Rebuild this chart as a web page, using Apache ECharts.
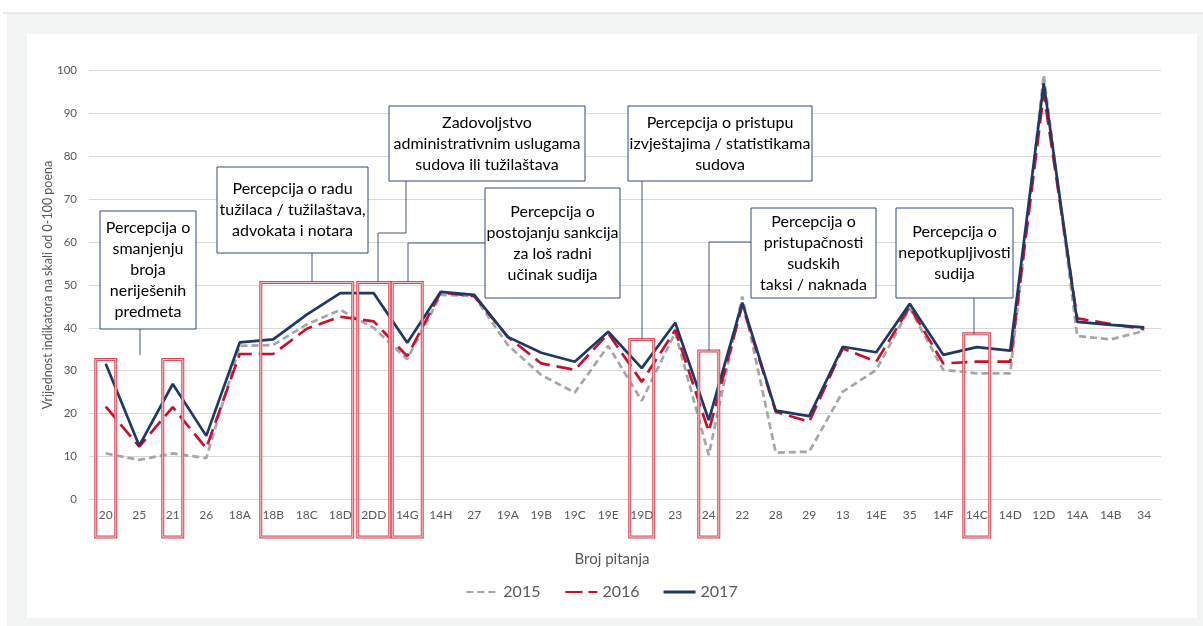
<!DOCTYPE html>
<html>
<head>
<meta charset="utf-8">
<script src="https://cdn.jsdelivr.net/npm/echarts@6/dist/echarts.min.js"></script>
<style>
  html, body { margin: 0; padding: 0; background: #fff; }
  #chart { width: 1203px; height: 626px; }
</style>
</head>
<body>
<div id="chart"></div>
<script>
const categories = ['20', '25', '21', '26', '18A', '18B', '18C', '18D', '2DD', '14G', '14H', '27',
  '19A', '19B', '19C', '19E', '19D', '23', '24', '22', '28', '29', '13', '14E', '35', '14F',
  '14C', '14D', '12D', '14A', '14B', '34'];
const values2015 = [10.7, 9.2, 10.7, 9.6, 35.8, 36.0, 40.8, 44.2, 40.0, 32.7, 47.7, 47.4,
  36.0, 29.0, 24.9, 35.8, 23.0, 38.9, 10.3, 47.3, 10.9, 11.1, 25.1, 30.2, 44.6, 30.2,
  29.4, 29.4, 99.0, 38.1, 37.3, 39.3];
const values2016 = [21.6, 12.3, 21.5, 11.9, 33.9, 33.9, 39.8, 42.6, 41.5, 33.4, 48.3, 47.4,
  37.9, 31.7, 30.2, 38.7, 27.4, 39.5, 15.8, 45.3, 20.4, 18.1, 35.2, 32.1, 44.9, 31.7,
  32.1, 32.1, 94.7, 42.2, 40.9, 39.7];
const values2017 = [31.6, 12.5, 26.9, 14.8, 36.6, 37.3, 43.1, 48.1, 48.1, 36.5, 48.4, 47.7,
  37.9, 34.2, 32.1, 39.1, 30.6, 41.2, 18.5, 45.9, 20.7, 19.4, 35.6, 34.3, 45.6, 33.7,
  35.5, 34.7, 97.1, 41.4, 40.7, 40.1];
const yMin = 0, yMax = 100, yStep = 10;

// red frames round question groups: first category, last category, top value, side padding (px)
const highlights = [
  ['20', '20', 32.6, 10], ['21', '21', 32.6, 10], ['18B', '18D', 50.6, 12.5],
  ['2DD', '2DD', 50.6, 16], ['14G', '14G', 50.6, 15], ['19D', '19D', 37.3, 12],
  ['24', '24', 34.6, 10], ['14C', '14C', 38.6, 13]
];

// callout boxes (x, y, w, h) and their connector lines
const callouts = [
  { text: 'Percepcija o\nsmanjenju\nbroja\nneriješenih\npredmeta', box: [100, 211, 96, 118],
    link: [[140, 329], [140, 355]] },
  { text: 'Percepcija o radu\ntužilaca / tužilaštava,\nadvokata i notara', box: [217, 167, 151, 86],
    link: [[312, 253], [312, 282]] },
  { text: 'Zadovoljstvo\nadministrativnim uslugama\nsudova ili tužilaštava', box: [389, 106, 196, 75],
    link: [[406, 181], [406, 233], [378, 233], [378, 282]] },
  { text: 'Percepcija o\npostojanju sankcija\nza loš radni\nučinak sudija', box: [485, 188, 135, 110],
    link: [[485, 243], [408, 243], [408, 282]] },
  { text: 'Percepcija o pristupu\nizvještajima / statistikama\nsudova', box: [628, 106, 184, 75],
    link: [[642, 181], [642, 339]] },
  { text: 'Percepcija o\npristupačnosti\nsudskih\ntaksi / naknada', box: [751, 208, 125, 90],
    link: [[751, 242], [709, 242], [709, 351]] },
  { text: 'Percepcija o\nnepotkupljivosti\nsudija', box: [896, 208, 117, 90],
    link: [[974, 298], [974, 334]] }
];

const font = 'Lato, "Open Sans", sans-serif';
const chart = echarts.init(document.getElementById('chart'));

const option = {
  animation: false,
  backgroundColor: '#fff',
  grid: { left: 89, right: 42, top: 70.7, bottom: 126.7 },
  legend: {
    data: ['2015', '2016', { name: '2017', icon: 'rect' }],
    left: 'center',
    top: 579,
    itemWidth: 32,
    itemHeight: 3,
    itemGap: 24,
    textStyle: { fontFamily: font, fontSize: 16, color: '#595959' }
  },
  xAxis: {
    type: 'category',
    data: categories,
    name: 'Broj pitanja',
    nameLocation: 'middle',
    nameGap: 52,
    nameTextStyle: { fontFamily: font, fontSize: 15, color: '#595959', padding: [0, 26, 0, 0] },
    axisLine: { lineStyle: { color: '#d9d9d9', width: 1 } },
    axisTick: { show: false },
    axisLabel: { fontFamily: font, fontSize: 12, color: '#595959', margin: 10 }
  },
  yAxis: {
    type: 'value',
    min: yMin,
    max: yMax,
    interval: yStep,
    name: 'Vrijednost indikatora na skali od 0-100 poena',
    nameLocation: 'middle',
    nameGap: 35,
    nameMoveOverlap: false,
    nameTextStyle: { fontFamily: font, fontSize: 12.5, color: '#595959' },
    axisLine: { show: false },
    axisTick: { show: false },
    axisLabel: { fontFamily: font, fontSize: 11.5, color: '#595959', margin: 12 },
    splitLine: { lineStyle: { color: '#d9d9d9', width: 1 } }
  },
  series: [
    {
      name: '2015', type: 'line', data: values2015, symbol: 'none', z: 2,
      itemStyle: { color: '#a6a6a6' },
      lineStyle: { color: '#a6a6a6', width: 2.7, type: [7, 4] }
    },
    {
      name: '2016', type: 'line', data: values2016, symbol: 'none', z: 3,
      itemStyle: { color: '#c8102e' },
      lineStyle: { color: '#c8102e', width: 2.7, type: [16, 7] }
    },
    {
      name: '2017', type: 'line', data: values2017, symbol: 'none', z: 4,
      itemStyle: { color: '#1f3864' },
      lineStyle: { color: '#1f3864', width: 2.7 }
    }
  ]
};
chart.setOption(option);

// page frame
const graphic = [
  { type: 'rect', z: -10, silent: true, shape: { x: 7, y: 13, width: 1196, height: 613 },
    style: { fill: '#f2f3f3' } },
  { type: 'line', z: -9, silent: true, shape: { x1: 3, y1: 13, x2: 1203, y2: 13 },
    style: { stroke: '#d6d6d6', lineWidth: 1 } },
  { type: 'rect', z: -9, silent: true, shape: { x: 27, y: 34, width: 1170, height: 584 },
    style: { fill: '#fff' } }
];

// red frames placed from the category scale
const frameBottom = 537;
highlights.forEach(function (h) {
  const a = chart.convertToPixel({ gridIndex: 0 }, [h[0], h[2]]);
  const b = chart.convertToPixel({ gridIndex: 0 }, [h[1], h[2]]);
  const shape = { x: a[0] - h[3], y: a[1], width: b[0] - a[0] + 2 * h[3], height: frameBottom - a[1] };
  graphic.push({ type: 'rect', z: 20, silent: true, shape: shape,
    style: { fill: null, stroke: '#d64a58', lineWidth: 3 } });
  graphic.push({ type: 'rect', z: 21, silent: true, shape: shape,
    style: { fill: null, stroke: '#f6c9cd', lineWidth: 1 } });
});

callouts.forEach(function (c) {
  graphic.push({ type: 'polyline', z: 22, silent: true, shape: { points: c.link },
    style: { fill: null, stroke: '#44577f', lineWidth: 1 } });
  graphic.push({
    type: 'rect', z: 23, silent: true,
    shape: { x: c.box[0], y: c.box[1], width: c.box[2], height: c.box[3] },
    style: { fill: '#fff', stroke: '#2f4a80', lineWidth: 1 }
  });
  graphic.push({
    type: 'text', z: 24, silent: true,
    x: c.box[0] + c.box[2] / 2,
    y: c.box[1] + c.box[3] / 2,
    style: {
      text: c.text, font: '16px ' + font, fill: '#000', lineHeight: 21,
      textAlign: 'center', textVerticalAlign: 'middle'
    }
  });
});

chart.setOption({ graphic: graphic });
</script>
</body>
</html>
